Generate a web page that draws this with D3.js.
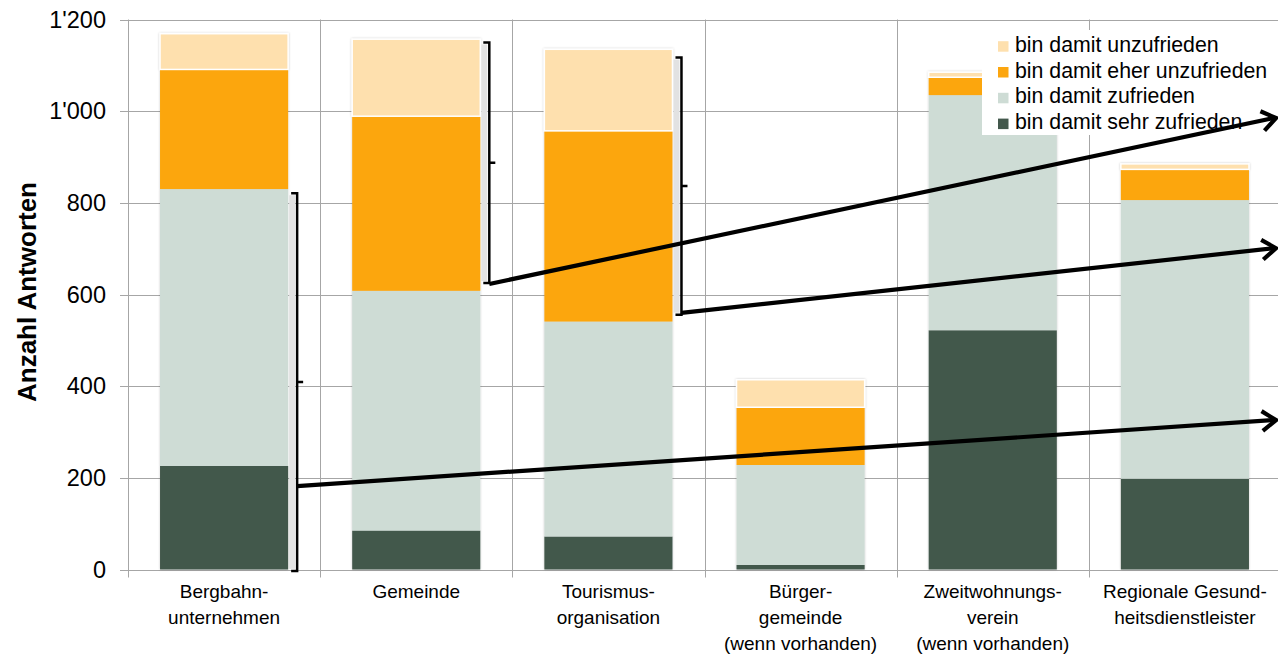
<!DOCTYPE html>
<html>
<head>
<meta charset="utf-8">
<script src="https://cdn.jsdelivr.net/npm/d3@7"></script>
<style>
  html, body { margin: 0; padding: 0; background: #fff; }
  svg { display: block; font-family: "Liberation Sans", Arial, sans-serif; }
</style>
</head>
<body>
<svg id="chart" width="1278" height="656"></svg>
<script>
// Categories (label lines) and the four satisfaction series
const categoryLabels = [
  ["Bergbahn-", "unternehmen"],
  ["Gemeinde"],
  ["Tourismus-", "organisation"],
  ["Bürger-", "gemeinde", "(wenn vorhanden)"],
  ["Zweitwohnungs-", "verein", "(wenn vorhanden)"],
  ["Regionale Gesund-", "heitsdienstleister"]
];
const sehrZufrieden   = [226, 85, 72, 10, 522, 198];
const zufrieden       = [604, 523, 469, 218, 513, 608];
const eherUnzufrieden = [261, 381, 416, 126, 39, 67];
const unzufrieden     = [78, 168, 178, 60, 11, 12];

const seriesNames  = ["bin damit sehr zufrieden", "bin damit zufrieden", "bin damit eher unzufrieden", "bin damit unzufrieden"];
const seriesColors = ["#43584c", "#cedcd5", "#fca60f", "#fee0ae"];
const yTicks = [0, 200, 400, 600, 800, 1000, 1200];

// Braces (value ranges) drawn beside some bars, and arrows leaving them
const braces = [
  { cat: 0, from: -3,  to: 821 },
  { cat: 1, from: 625, to: 1150 },
  { cat: 2, from: 556, to: 1117 }
];
const arrows = [
  { cat: 0, from: 182, to: 326 },
  { cat: 1, from: 623, to: 985 },
  { cat: 2, from: 560, to: 701 }
];

const W = 1278, H = 656;
const plot = { left: 128, right: 1281, top: 19.5, bottom: 569.5 };

const keys = categoryLabels.map((d, i) => "c" + i);
const rows = keys.map((k, i) => ({
  key: k,
  s0: sehrZufrieden[i], s1: zufrieden[i], s2: eherUnzufrieden[i], s3: unzufrieden[i]
}));

const x = d3.scaleBand().domain(keys).range([plot.left, plot.right])
  .paddingInner(1 / 3).paddingOuter(1 / 6);
const y = d3.scaleLinear().domain([0, 1200]).range([plot.bottom, plot.top]);

const stack = d3.stack().keys(["s0", "s1", "s2", "s3"]);
const stacked = stack(rows);

const svg = d3.select("#chart");
const gridColor = "#a6a6a6";

// soft halo around bars
const defs = svg.append("defs");
const f = defs.append("filter").attr("id", "halo").attr("x", "-10%").attr("y", "-10%").attr("width", "120%").attr("height", "120%");
f.append("feDropShadow").attr("dx", 0).attr("dy", 0).attr("stdDeviation", 1.2)
  .attr("flood-color", "#000").attr("flood-opacity", 0.22);

// horizontal gridlines
svg.append("g").selectAll("line").data(yTicks).join("line")
  .attr("x1", plot.left - 8).attr("x2", W)
  .attr("y1", d => Math.round(y(d)) + 0.5).attr("y2", d => Math.round(y(d)) + 0.5)
  .attr("stroke", gridColor).attr("stroke-width", 1);

// vertical gridlines at category boundaries
const bounds = keys.map(k => x(k) - x.step() * x.paddingInner() / 2);
bounds.push(plot.right);
svg.append("g").selectAll("line").data(bounds).join("line")
  .attr("x1", d => Math.round(d) + 0.5).attr("x2", d => Math.round(d) + 0.5)
  .attr("y1", plot.top).attr("y2", plot.bottom + 8)
  .attr("stroke", gridColor).attr("stroke-width", 1);

// y axis labels
const fmt = d3.formatLocale({ decimal: ".", thousands: "'", grouping: [3], currency: ["", ""] }).format(",");
const yAxis = d3.axisLeft(y).tickValues(yTicks).tickFormat(fmt).tickSize(0).tickPadding(22);
const gy = svg.append("g").attr("transform", `translate(${plot.left},0)`).call(yAxis);
gy.select(".domain").remove();
gy.selectAll("text").attr("font-size", 23.5).attr("fill", "#000")
  .attr("font-family", "'Liberation Sans', Arial, sans-serif");

// y axis title
svg.append("text")
  .attr("transform", "translate(36,292) rotate(-90)")
  .attr("text-anchor", "middle")
  .attr("font-size", 26).attr("font-weight", "bold")
  .text("Anzahl Antworten");

// bars
const barG = svg.append("g").attr("filter", "url(#halo)");
stacked.forEach((layer, li) => {
  barG.append("g").selectAll("rect").data(layer).join("rect")
    .attr("x", d => x(d.data.key))
    .attr("width", x.bandwidth())
    .attr("y", d => y(d[1]))
    .attr("height", d => y(d[0]) - y(d[1]))
    .attr("fill", seriesColors[li])
    .attr("stroke", li === 3 ? "#fff" : "none")
    .attr("stroke-width", li === 3 ? 1.5 : 0);
});

// category labels
const xLab = svg.append("g");
categoryLabels.forEach((lines, i) => {
  const cx = x(keys[i]) + x.bandwidth() / 2;
  const t = xLab.append("text").attr("text-anchor", "middle").attr("font-size", 19).attr("fill", "#000");
  lines.forEach((ln, j) => {
    t.append("tspan").attr("x", cx).attr("y", 598 + j * 26).text(ln);
  });
});

// legend
const lg = svg.append("g");
lg.append("rect").attr("x", 982).attr("y", 30).attr("width", W - 982).attr("height", 105).attr("fill", "#fff");
const legendOrder = [3, 2, 1, 0];
legendOrder.forEach((si, j) => {
  const by = 51.7 + j * 25.8;
  lg.append("rect").attr("x", 998).attr("y", by - 10.5).attr("width", 10.5).attr("height", 10.5)
    .attr("fill", seriesColors[si]);
  lg.append("text").attr("x", 1015).attr("y", by).attr("font-size", 21.3).attr("fill", "#000")
    .text(seriesNames[si]);
});

// braces beside bars
const braceG = svg.append("g");
braces.forEach(b => {
  const bx = x(keys[b.cat]) + x.bandwidth() + 9;
  const y0 = y(b.from), y1 = y(b.to), ym = (y0 + y1) / 2;
  braceG.append("rect").attr("x", x(keys[b.cat]) + x.bandwidth() + 1).attr("y", y1 + 2)
    .attr("width", 6).attr("height", y0 - y1 - 4).attr("fill", "#e2e2e2");
  braceG.append("path")
    .attr("d", `M${bx - 6},${y1} H${bx} V${y0} H${bx - 6} M${bx},${ym} H${bx + 6}`)
    .attr("fill", "none").attr("stroke", "#000").attr("stroke-width", 2.5);
});

// arrows to the right edge
const arrowG = svg.append("g");
arrows.forEach(a => {
  const sx = x(keys[a.cat]) + x.bandwidth() + 9;
  const sy = y(a.from);
  const ex = W - 2, ey = y(a.to);
  const ang = Math.atan2(ey - sy, ex - sx);
  const L = 17, spread = 0.62;
  arrowG.append("line").attr("x1", sx).attr("y1", sy).attr("x2", ex - 2).attr("y2", ey)
    .attr("stroke", "#000").attr("stroke-width", 4.2);
  const p1 = [ex - L * Math.cos(ang - spread), ey - L * Math.sin(ang - spread)];
  const p2 = [ex - L * Math.cos(ang + spread), ey - L * Math.sin(ang + spread)];
  arrowG.append("polyline")
    .attr("points", `${p1[0]},${p1[1]} ${ex},${ey} ${p2[0]},${p2[1]}`)
    .attr("fill", "none").attr("stroke", "#000").attr("stroke-width", 4.2)
    .attr("stroke-linejoin", "miter").attr("stroke-linecap", "butt");
});
</script>
</body>
</html>
